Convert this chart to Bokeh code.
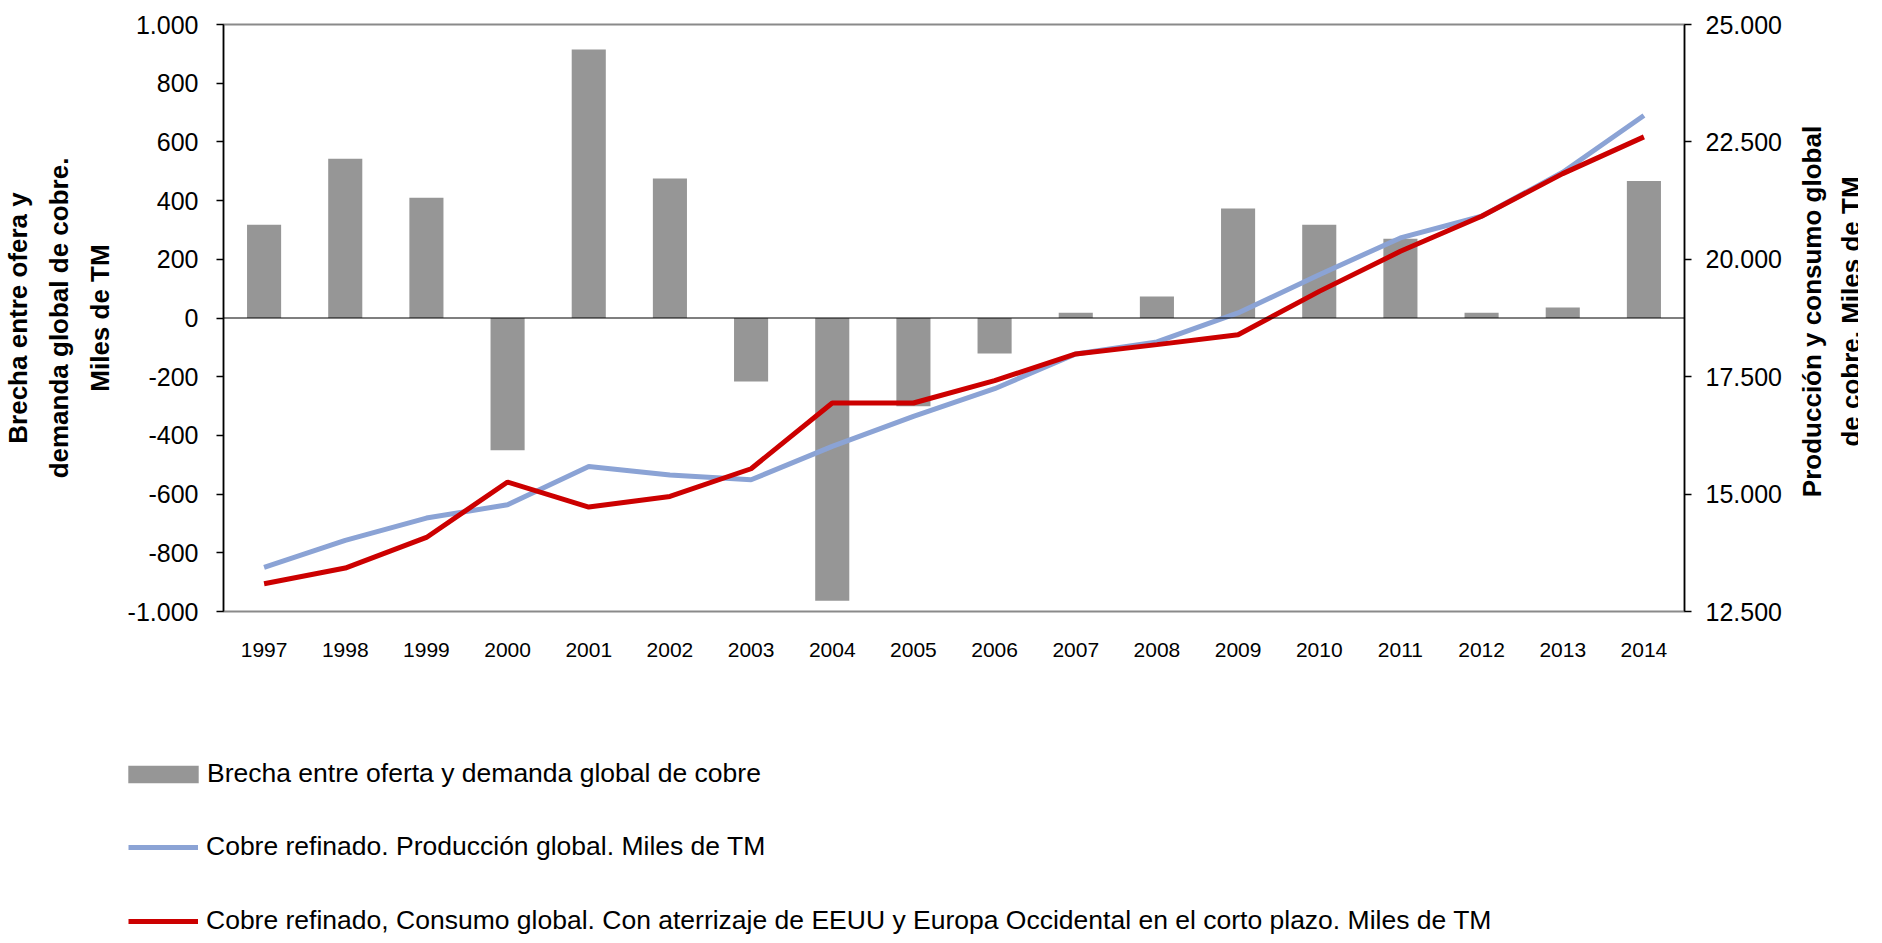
import math
from bokeh.plotting import figure
from bokeh.layouts import column, row
from bokeh.core.properties import value
from bokeh.models import (FactorRange, Range1d, LinearAxis, FixedTicker, Span,
                          Legend, LegendItem)
from bokeh.embed import file_html
from bokeh.resources import INLINE

# ---- data ----
years = ["1997", "1998", "1999", "2000", "2001", "2002", "2003", "2004", "2005",
         "2006", "2007", "2008", "2009", "2010", "2011", "2012", "2013", "2014"]
brecha = [318, 543, 410, -451, 915, 475, -216, -963, -301,
          -121, 18, 73, 373, 318, 270, 18, 36, 467]
produccion = [13438, 14013, 14490, 14773, 15590, 15406, 15306, 16016, 16655,
              17245, 17984, 18240, 18857, 19673, 20455, 20916, 21853, 23061]
consumo = [13090, 13425, 14077, 15257, 14724, 14950, 15540, 16940, 16940,
           17416, 17984, 18183, 18394, 19317, 20170, 20916, 21825, 22607]

left_ticks = [-1000, -800, -600, -400, -200, 0, 200, 400, 600, 800, 1000]
left_tick_labels = ["-1.000", "-800", "-600", "-400", "-200", "0", "200", "400",
                    "600", "800", "1.000"]
right_ticks = [12500, 15000, 17500, 20000, 22500, 25000]
right_tick_labels = ["12.500", "15.000", "17.500", "20.000", "22.500", "25.000"]

label_brecha = "Brecha entre oferta y demanda global de cobre"
label_prod = "Cobre refinado. Producción global. Miles de TM"
label_cons = ("Cobre refinado, Consumo global. Con aterrizaje de EEUU y Europa "
              "Occidental en el corto plazo. Miles de TM")
left_title = "Brecha entre ofera y\ndemanda global de cobre.\nMiles de TM"
right_title = "Producción y consumo global\nde cobre. Miles de TM"

FONT = "Liberation Sans"
GRAY_BAR = "#969696"
BLUE = "#8BA3D5"
RED = "#CC0000"

MAIN_W, MAIN_H = 1784, 670
TITLE_W = 74
LEG_H = 265


def no_align(fig):
    try:
        fig.frame_align = False
    except Exception:
        pass


def blank(fig):
    fig.grid.visible = False
    fig.outline_line_color = None
    fig.background_fill_color = "white"
    fig.border_fill_color = "white"


# ---- main chart ----
p = figure(width=MAIN_W, height=MAIN_H,
           x_range=FactorRange(factors=years),
           y_range=Range1d(-1000, 1000),
           output_backend="svg", toolbar_location=None,
           min_border_left=214, min_border_right=100,
           min_border_top=24, min_border_bottom=59)
no_align(p)
p.extra_y_ranges = {"right": Range1d(12500, 25000)}
p.grid.visible = False
p.outline_line_color = "#8a8a8a"
p.outline_line_width = 2
p.background_fill_color = "white"
p.border_fill_color = "white"

# x axis
xa = p.xaxis[0]
xa.axis_line_color = None
xa.major_tick_line_color = None
xa.major_tick_out = 0
xa.major_tick_in = 0
xa.major_label_text_font = FONT
xa.major_label_text_font_size = "21px"
xa.major_label_text_color = "black"
xa.major_label_standoff = 31

# left axis
ya = p.yaxis[0]
ya.ticker = FixedTicker(ticks=left_ticks)
ya.major_label_overrides = dict(zip(left_ticks, left_tick_labels))
ya.minor_tick_line_color = None
ya.axis_line_color = "black"
ya.axis_line_width = 1.5
ya.major_tick_line_color = "black"
ya.major_tick_line_width = 1.5
ya.major_tick_out = 7
ya.major_tick_in = 0
ya.major_label_text_font = FONT
ya.major_label_text_font_size = "25px"
ya.major_label_text_color = "black"
ya.major_label_standoff = 18
ya.axis_label = left_title
ya.axis_label_text_font = FONT
ya.axis_label_text_font_size = "26px"
ya.axis_label_text_font_style = "bold"
ya.axis_label_text_color = "black"
ya.axis_label_text_line_height = 1.36
ya.axis_label_standoff = 10

# right axis (numbers only; its title is drawn in the narrow panel beside)
ra = LinearAxis(y_range_name="right", ticker=FixedTicker(ticks=right_ticks))
ra.major_label_overrides = dict(zip(right_ticks, right_tick_labels))
ra.minor_tick_line_color = None
ra.axis_line_color = "black"
ra.axis_line_width = 1.5
ra.major_tick_line_color = "black"
ra.major_tick_line_width = 1.5
ra.major_tick_out = 7
ra.major_tick_in = 0
ra.major_label_text_font = FONT
ra.major_label_text_font_size = "25px"
ra.major_label_text_color = "black"
ra.major_label_standoff = 14
p.add_layout(ra, "right")

# glyphs
bars = p.vbar(x=years, top=brecha, width=0.42, fill_color=GRAY_BAR, line_color=None)
zero = Span(location=0, dimension="width", line_color="black", line_width=1.2)
p.add_layout(zero)
l_prod = p.line(x=years, y=produccion, y_range_name="right",
                line_color=BLUE, line_width=5)
l_cons = p.line(x=years, y=consumo, y_range_name="right",
                line_color=RED, line_width=5)

# ---- right title panel ----
pt = figure(width=TITLE_W, height=MAIN_H, x_range=Range1d(0, TITLE_W),
            y_range=Range1d(0, MAIN_H), output_backend="svg",
            toolbar_location=None, min_border_left=0, min_border_right=0,
            min_border_top=0, min_border_bottom=0,
            x_axis_location=None, y_axis_location=None)
no_align(pt)
blank(pt)
pt.text(x=[47], y=[MAIN_H - 311], text=[right_title], angle=math.pi / 2,
        text_align="center", text_baseline="middle",
        text_font=value(FONT), text_font_size="26px", text_font_style="bold",
        text_line_height=1.3, text_color="black")

# ---- legend panel ----
pl = figure(width=MAIN_W + TITLE_W, height=LEG_H,
            x_range=FactorRange(factors=years), y_range=Range1d(-1000, 1000),
            output_backend="svg", toolbar_location=None,
            min_border_left=0, min_border_right=0, min_border_top=0,
            min_border_bottom=0, x_axis_location=None, y_axis_location=None)
no_align(pl)
blank(pl)
lg_bar = pl.vbar(x=years, top=brecha, width=0.42, fill_color=GRAY_BAR,
                 line_color=None, visible=False)
lg_prod = pl.line(x=years, y=produccion, line_color=BLUE, line_width=5, visible=False)
lg_cons = pl.line(x=years, y=consumo, line_color=RED, line_width=5, visible=False)

common = dict(orientation="vertical", label_height=30, padding=0, margin=0,
              border_line_color=None, background_fill_alpha=0,
              inactive_fill_alpha=0, label_text_font=FONT,
              label_text_font_size="26.5px", label_text_color="black")
legend_a = Legend(items=[LegendItem(label=label_brecha, renderers=[lg_bar])],
                  location=(119, 146), glyph_width=88, glyph_height=22,
                  label_standoff=0, spacing=0, **common)
legend_b = Legend(items=[LegendItem(label=label_prod, renderers=[lg_prod]),
                         LegendItem(label=label_cons, renderers=[lg_cons])],
                  location=(128, -1), glyph_width=70, glyph_height=18,
                  label_standoff=8, spacing=43, **common)
pl.add_layout(legend_a)
pl.add_layout(legend_b)

layout = column(row(p, pt, spacing=0), pl, spacing=0)
open("out.html", "w").write(file_html(layout, INLINE))
